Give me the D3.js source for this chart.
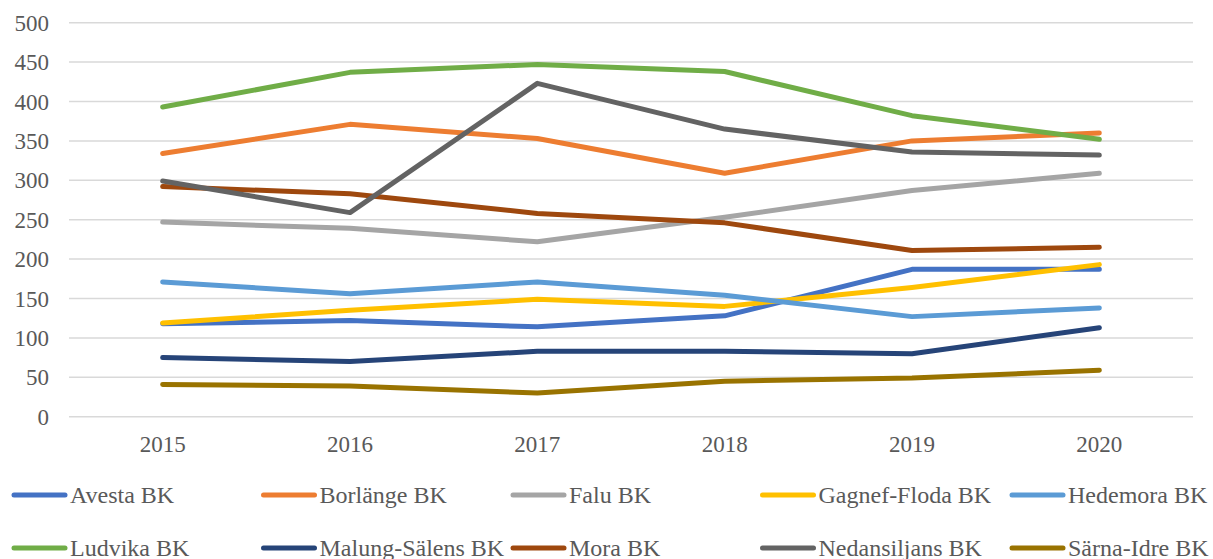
<!DOCTYPE html>
<html>
<head>
<meta charset="utf-8">
<script src="https://cdn.jsdelivr.net/npm/d3@7"></script>
<style>
  body { margin: 0; background: #fff; }
  svg text { font-family: "Liberation Serif", "Times New Roman", Tinos, "DejaVu Serif", serif; fill: #595959; }
</style>
</head>
<body>
<div id="chart"></div>
<script>
// years on the x axis
const years = ["2015", "2016", "2017", "2018", "2019", "2020"];

// one array per club
const avesta       = [118, 122, 114, 128, 187, 187];
const borlange     = [334, 371, 353, 309, 350, 360];
const falu         = [247, 239, 222, 253, 287, 309];
const gagnefFloda  = [119, 135, 149, 140, 164, 193];
const hedemora     = [171, 156, 171, 154, 127, 138];
const ludvika      = [393, 437, 447, 438, 382, 352];
const malungSalens = [75, 70, 83, 83, 80, 113];
const mora         = [292, 283, 258, 246, 211, 215];
const nedansiljans = [299, 259, 423, 365, 336, 332];
const sarnaIdre    = [41, 39, 30, 45, 49, 59];

const seriesNames = ["Avesta BK", "Borlänge BK", "Falu BK", "Gagnef-Floda BK", "Hedemora BK",
                     "Ludvika BK", "Malung-Sälens BK", "Mora BK", "Nedansiljans BK", "Särna-Idre BK"];
const seriesValues = [avesta, borlange, falu, gagnefFloda, hedemora,
                      ludvika, malungSalens, mora, nedansiljans, sarnaIdre];
const seriesColors = ["#4472C4", "#ED7D31", "#A5A5A5", "#FFC000", "#5B9BD5",
                      "#70AD47", "#264478", "#9E480E", "#636363", "#997300"];

const yTicks = [0, 50, 100, 150, 200, 250, 300, 350, 400, 450, 500];

const W = 1213, H = 559;
const plot = {left: 69, right: 1193, top: 22.7, bottom: 416.7};
const font = '"Liberation Serif", "Times New Roman", Tinos, "DejaVu Serif", serif';

const svg = d3.select("#chart").append("svg")
    .attr("width", W)
    .attr("height", H);

const x = d3.scaleBand().domain(years).range([plot.left, plot.right]).padding(0);
const y = d3.scaleLinear().domain([0, 500]).range([plot.bottom, plot.top]);
const cx = d => x(d) + x.bandwidth() / 2;

// gridlines
svg.append("g")
    .selectAll("line")
    .data(yTicks)
    .join("line")
    .attr("x1", plot.left)
    .attr("x2", plot.right)
    .attr("y1", d => y(d))
    .attr("y2", d => y(d))
    .attr("stroke", "#D9D9D9")
    .attr("stroke-width", 1.5);

// y labels
svg.append("g")
    .selectAll("text")
    .data(yTicks)
    .join("text")
    .attr("x", 49)
    .attr("y", d => y(d))
    .attr("dy", "0.35em")
    .attr("text-anchor", "end")
    .attr("font-family", font)
    .style("font-size", "23px")
    .text(d => d);

// x labels
svg.append("g")
    .selectAll("text")
    .data(years)
    .join("text")
    .attr("x", d => cx(d))
    .attr("y", 444)
    .attr("dy", "0.35em")
    .attr("text-anchor", "middle")
    .attr("font-family", font)
    .style("font-size", "23px")
    .text(d => d);

// lines
const line = d3.line()
    .x((d, i) => cx(years[i]))
    .y(d => y(d));

svg.append("g")
    .selectAll("path")
    .data(seriesValues)
    .join("path")
    .attr("d", d => line(d))
    .attr("fill", "none")
    .attr("stroke", (d, i) => seriesColors[i])
    .attr("stroke-width", 5)
    .attr("stroke-linejoin", "round")
    .attr("stroke-linecap", "round");

// legend, 5 columns x 2 rows (second row is cut by the bottom edge, as in the original)
const legend = svg.append("g");
const item = legend.selectAll("g")
    .data(seriesNames)
    .join("g")
    .attr("transform", (d, i) => `translate(${12 + (i % 5) * 249.5},${i < 5 ? 495 : 548})`);

item.append("line")
    .attr("x1", 2)
    .attr("x2", 53)
    .attr("stroke", (d, i) => seriesColors[i])
    .attr("stroke-width", 5)
    .attr("stroke-linecap", "round");

item.append("text")
    .attr("x", 58)
    .attr("dy", "0.35em")
    .attr("font-family", font)
    .style("font-size", "24px")
    .text(d => d);
</script>
</body>
</html>
